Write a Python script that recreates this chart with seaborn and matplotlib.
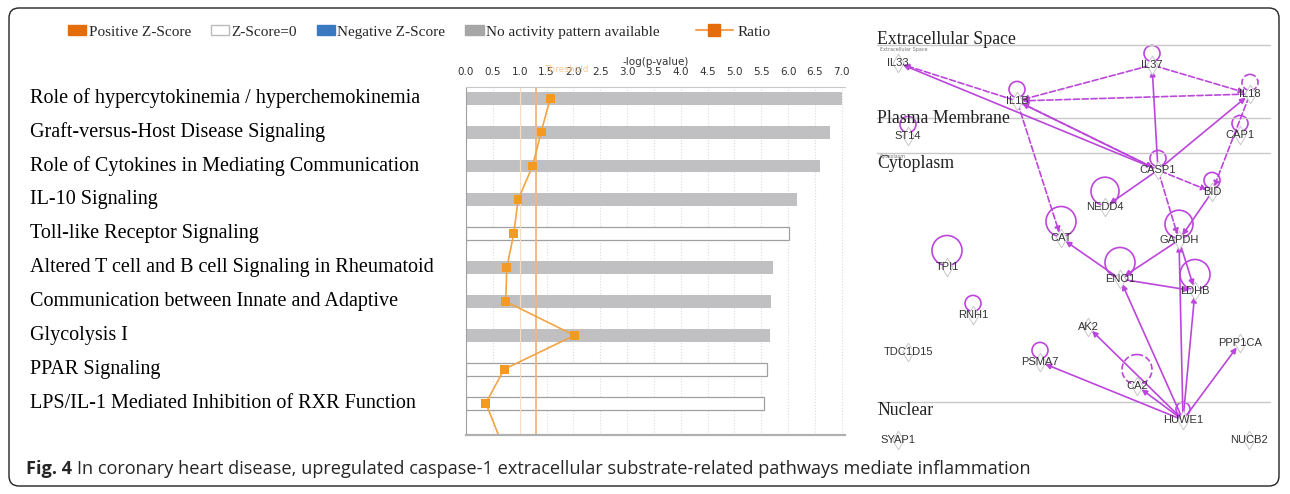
import numpy as np
import pandas as pd
import seaborn as sns
import matplotlib.pyplot as plt
import matplotlib.transforms as mtransforms
from matplotlib import rcParams
from matplotlib.patches import Patch, Circle, FancyBboxPatch
from matplotlib.lines import Line2D

# ---- canonical pathway data ----
pathways = ['Role of hypercytokinemia / hyperchemokinemia',
            'Graft-versus-Host Disease Signaling',
            'Role of Cytokines in Mediating Communication',
            'IL-10 Signaling',
            'Toll-like Receptor Signaling',
            'Altered T cell and B cell Signaling in Rheumatoid',
            'Communication between Innate and Adaptive',
            'Glycolysis I',
            'PPAR Signaling',
            'LPS/IL-1 Mediated Inhibition of RXR Function']
log_p = [7.0, 6.78, 6.6, 6.16, 6.01, 5.71, 5.69, 5.66, 5.61, 5.55]
z_state = ['No activity pattern available'] * 4 + ['Z-Score=0'] + \
          ['No activity pattern available'] * 3 + ['Z-Score=0'] * 2
ratio = [1.57, 1.40, 1.24, 0.97, 0.89, 0.76, 0.74, 2.02, 0.71, 0.37]
ratio_next = 0.62   # next pathway, cut off by the axis
threshold = 1.3

legend_labels = ['Positive Z-Score', 'Z-Score=0', 'Negative Z-Score',
                 'No activity pattern available', 'Ratio']
legend_colors = ['#E46C0A', 'white', '#3A78C2', '#A6A6A6', '#E46C0A']

# ---- network data ----
genes = ['IL33', 'IL37', 'IL1B', 'IL18', 'ST14', 'CAP1', 'CASP1', 'BID', 'NEDD4',
         'CAT', 'GAPDH', 'TPI1', 'ENO1', 'LDHB', 'RNH1', 'AK2', 'PPP1CA',
         'TDC1D15', 'PSMA7', 'CA2', 'HUWE1', 'SYAP1', 'NUCB2']
gene_x = [898, 1152, 1017, 1250, 908, 1240, 1158, 1212, 1105, 1061, 1179, 947,
          1120, 1195, 973, 1088, 1240, 908, 1040, 1137, 1183, 898, 1249]
gene_y = [63, 65, 101, 94, 136, 135, 170, 192, 207, 238, 240, 267, 279, 291,
          315, 327, 343, 352, 362, 386, 420, 440, 440]
loop_genes = ['IL37', 'IL1B', 'IL18', 'ST14', 'CAP1', 'CASP1', 'BID', 'NEDD4',
              'CAT', 'GAPDH', 'TPI1', 'ENO1', 'LDHB', 'RNH1', 'PSMA7', 'CA2', 'HUWE1']
loop_r = [8, 8, 8, 8, 8, 8, 8, 14, 15, 14, 15, 15, 15, 8, 8, 15, 7]
loop_dashed = ['IL18', 'CA2']
edges = [('CASP1', 'IL33', '-'), ('CASP1', 'IL1B', '-'), ('IL1B', 'CASP1', '--'),
         ('IL1B', 'IL33', '--'), ('IL37', 'IL1B', '--'), ('IL18', 'IL1B', '--'),
         ('IL37', 'IL18', '--'), ('CASP1', 'IL37', '-'), ('CASP1', 'IL18', '-'),
         ('IL1B', 'CAT', '--'), ('CASP1', 'GAPDH', '--'), ('CASP1', 'BID', '--'),
         ('IL18', 'BID', '--'), ('CASP1', 'NEDD4', '-'), ('BID', 'GAPDH', '-'),
         ('GAPDH', 'ENO1', '-'), ('ENO1', 'CAT', '-'), ('ENO1', 'LDHB', '-'),
         ('GAPDH', 'LDHB', '-'), ('HUWE1', 'ENO1', '-'), ('HUWE1', 'GAPDH', '-'),
         ('HUWE1', 'LDHB', '-'), ('HUWE1', 'AK2', '-'), ('HUWE1', 'PSMA7', '-'),
         ('HUWE1', 'CA2', '-'), ('HUWE1', 'PPP1CA', '-')]
compartments = ['Extracellular Space', 'Plasma Membrane', 'Cytoplasm', 'Nuclear']
compartment_text_y = [40, 119, 164, 410]
compartment_line_y = [45, 118, 153, 402]

sns.set_style('white')
rcParams['font.family'] = ['DejaVu Sans']
SERIF = 'Liberation Serif'
PURPLE = '#BC46DC'

W, H = 1290, 494
fig = plt.figure(figsize=(W / 100, H / 100), dpi=100)

# ---- bar chart ----
ax = fig.add_axes([466 / W, 1 - 435 / H, (845 - 466) / W, 348 / H])
df = pd.DataFrame({'pathway': pathways, 'logp': log_p, 'state': z_state})
pal = dict(zip(legend_labels[:4], ['#E46C0A', 'white', '#3A78C2', '#C0C0C2']))
sns.barplot(data=df, x='logp', y='pathway', hue='state', hue_order=legend_labels[:4],
            palette=pal, dodge=False, width=0.38, legend=False, ax=ax)
for p in ax.patches:
    if p.get_facecolor()[0] > 0.99:
        p.set_edgecolor('#A0A0A0')
        p.set_linewidth(0.9)
    else:
        p.set_edgecolor('none')

pos = list(range(len(pathways)))
sns.lineplot(x=ratio + [ratio_next], y=pos + [len(pathways)], sort=False,
             estimator=None, color='#F2A445', lw=1.2, ax=ax)
sns.scatterplot(x=ratio, y=pos, marker='s', color='#F39A22', s=40,
                edgecolor='none', ax=ax, zorder=5)
ax.axvline(threshold, color='#F2B57A', lw=1.3, zorder=1)
ax.axvline(1.0, color='#F7DDBE', lw=0.8, zorder=1)

ax.set_xlim(0, 7.06)
ax.set_ylim(9.94, -0.33)
ax.set_xticks(np.arange(0, 7.01, 0.5))
ax.set_xticklabels([f'{v:.1f}' for v in np.arange(0, 7.01, 0.5)],
                   fontsize=7.5, color='#333333')
ax.xaxis.tick_top()
ax.xaxis.set_label_position('top')
ax.set_xlabel('-log(p-value)', fontsize=7.5, color='#333333', labelpad=2)
ax.tick_params(axis='x', length=0, pad=7)
ax.set_ylabel('')
ax.set_yticks([])
ax.grid(axis='x', color='#DADADA', ls=':', lw=0.8)
ax.set_axisbelow(True)
ax.spines['right'].set_visible(False)
ax.spines['left'].set_color('#A0A0A0')
ax.spines['top'].set_color('#C8C8C8')
ax.spines['bottom'].set_color('#B0B0B0')
ax.spines['bottom'].set_linewidth(1.6)
ax.text(1.45, 1.05, 'Threshold', transform=ax.get_xaxis_transform(),
        fontsize=6.5, color='#F5C896', va='center')

lab_tr = mtransforms.blended_transform_factory(fig.transFigure, ax.transData)
for i, name in enumerate(pathways):
    ax.text(30 / W, i, name, transform=lab_tr, fontsize=14.5, family=SERIF,
            va='center', ha='left', color='black')

handles = [Patch(facecolor=c, edgecolor='#BBBBBB' if c == 'white' else c)
           for c in legend_colors[:4]]
fig.legend(handles, legend_labels[:4], loc='center left',
           bbox_to_anchor=(68 / W, 1 - 32 / H), ncol=4, frameon=False,
           prop={'family': SERIF, 'size': 11}, borderpad=0, borderaxespad=0,
           handlelength=1.2, handleheight=0.55, handletextpad=0.15, columnspacing=1.3)
fig.legend([Line2D([0], [0], color='#F5A35A', marker='s', markersize=8,
                   markerfacecolor=legend_colors[4], markeredgecolor=legend_colors[4], lw=1.5)],
           legend_labels[4:], loc='center left', bbox_to_anchor=(696 / W, 1 - 32 / H),
           frameon=False, prop={'family': SERIF, 'size': 11}, borderpad=0,
           borderaxespad=0, handlelength=2.4, handletextpad=0.3)

# ---- network ----
nx = fig.add_axes([860 / W, 1 - 450 / H, 430 / W, 430 / H])
nx.set_xlim(860, 1290)
nx.set_ylim(450, 20)
nx.axis('off')
xy = {g: (x, y) for g, x, y in zip(genes, gene_x, gene_y)}

for name, ty, ly in zip(compartments, compartment_text_y, compartment_line_y):
    nx.plot([877, 1270], [ly, ly], color='#C8C8C8', lw=1)
    nx.text(877, ty, name, fontsize=12.8, family=SERIF, va='center', ha='left', color='#222222')
nx.text(880, 50, 'Extracellular Space', fontsize=3.5, color='#777777', va='center')
nx.text(880, 157, 'Cytoplasm', fontsize=3.5, color='#777777', va='center')

for a, b, ls in edges:
    nx.annotate('', xy=xy[b], xytext=xy[a],
                arrowprops=dict(arrowstyle='-|>', color=PURPLE, lw=1.2, ls=ls,
                                shrinkA=2, shrinkB=4, mutation_scale=8))

for g, r in zip(loop_genes, loop_r):
    x, y = xy[g]
    nx.add_patch(Circle((x, y - 6 - r * 0.7), r, fill=False, ec=PURPLE, lw=1.2,
                        ls='--' if g in loop_dashed else '-'))

nx.scatter(gene_x, gene_y, marker='d', s=90, facecolor='white',
           edgecolor='#C8C8C8', lw=0.7, zorder=3)
for g, x, y in zip(genes, gene_x, gene_y):
    nx.text(x, y, g, fontsize=8, family='Liberation Sans', color='#333333',
            ha='center', va='center', zorder=4)

# ---- caption and frame ----
fig.patches.append(FancyBboxPatch((9, 8), W - 20, H - 16,
                                  boxstyle='round,pad=0,rounding_size=10',
                                  transform=mtransforms.IdentityTransform(),
                                  fill=False, ec='#222222', lw=1))
t1 = fig.text(26 / W, 1 - 474 / H, 'Fig. 4', fontsize=13.1, weight='bold',
              family='Open Sans', va='baseline')
fig.canvas.draw()
bb = t1.get_window_extent()
fig.text((bb.x1 + 5) / W, 1 - 474 / H,
         'In coronary heart disease, upregulated caspase-1 extracellular '
         'substrate-related pathways mediate inflammation',
         fontsize=13.1, family='Open Sans', va='baseline')

fig.savefig('out.png', dpi=100)
